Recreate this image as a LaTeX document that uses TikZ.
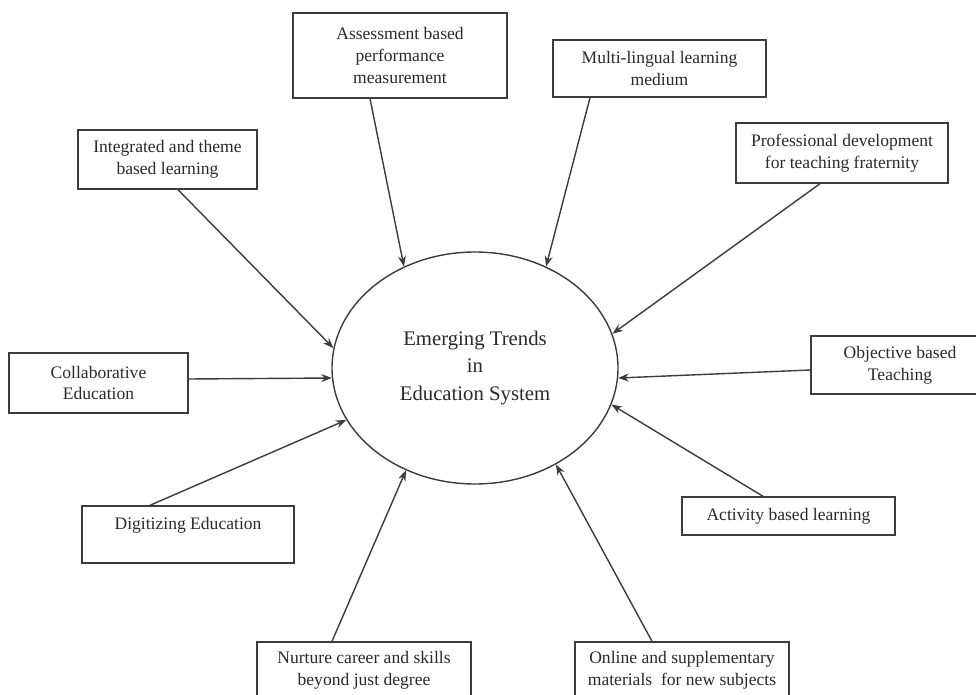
\documentclass[tikz,border=0pt]{standalone}
\usepackage{fontspec}
\setmainfont{Liberation Serif}
\usetikzlibrary{arrows.meta,shapes.geometric}
\newlength\pxu
\setlength\pxu{0.02cm}
\definecolor{linecol}{HTML}{3C3C3C}
\definecolor{textcol}{HTML}{2A2A2A}
\tikzset{
  trendbox/.style={draw=linecol, line width=0.8pt, rectangle, inner sep=0pt, align=center,
    text=textcol, font=\fontsize{10}{12.3}\selectfont},
  hub/.style={draw=linecol, line width=0.8pt, ellipse, inner sep=0pt, align=center,
    minimum width=286\pxu, minimum height=232\pxu, text=textcol,
    font=\fontsize{11.8}{15.6}\selectfont},
  conn/.style={draw=linecol, line width=0.8pt, -{Stealth[length=6pt,width=4.5pt]}}
}
\begin{document}
\begin{tikzpicture}[x=0.02cm, y=-0.02cm]
\useasboundingbox (0,0) rectangle (976,695);
\clip (0,0) rectangle (976,695);
\fill[white] (0,0) rectangle (976,695);

\node[hub] (c) at (475,368) {Emerging Trends\\in\\Education System};

\node[trendbox, minimum width=214\pxu, minimum height=85\pxu] (b1) at (400,55.5) {Assessment based\\performance\\measurement};
\node[trendbox, minimum width=213\pxu, minimum height=57\pxu] (b2) at (659.5,68.5) {Multi-lingual learning\\medium};
\node[trendbox, minimum width=212\pxu, minimum height=60\pxu] (b3) at (842,153) {Professional development\\for teaching fraternity};
\node[trendbox, minimum width=179\pxu, minimum height=59\pxu] (b4) at (167.5,159.5) {Integrated and theme\\based learning};
\node[trendbox, minimum width=179\pxu, minimum height=60\pxu] (b5) at (98.5,383) {Collaborative\\Education};
\node[trendbox, minimum width=178\pxu, minimum height=58\pxu] (b6) at (900,365) {Objective based\\Teaching};
\node[trendbox, minimum width=212\pxu, minimum height=57\pxu] (b7) at (188,534.5) {Digitizing Education\\\mbox{}};
\node[trendbox, minimum width=213\pxu, minimum height=38\pxu] (b8) at (788.5,516) {Activity based learning};
\node[trendbox, minimum width=214\pxu, minimum height=56\pxu] (b9) at (364,670) {Nurture career and skills\\beyond just degree};
\node[trendbox, minimum width=214\pxu, minimum height=56\pxu] (b10) at (682,670) {Online and supplementary\\materials\ \ for new subjects};

\draw[conn] ([xshift=-30\pxu]b1.south) -- (c.125.5);
\draw[conn] ([xshift=-69.5\pxu]b2.south) -- (c.55.4);
\draw[conn] ([xshift=-22\pxu]b3.south) -- (c.14.7);
\draw[conn] ([xshift=10.5\pxu]b4.south) -- (c.172.9);
\draw[conn] ([yshift=4\pxu]b5.east) -- (c.184.7);
\draw[conn] ([yshift=-5\pxu]b6.west) -- (c.-4);
\draw[conn] ([xshift=-38\pxu]b7.north) -- (c.202.1);
\draw[conn] ([xshift=-25.5\pxu]b8.north) -- (c.-15.9);
\draw[conn] ([xshift=-32\pxu]b9.north) -- (c.-124.5);
\draw[conn] ([xshift=-30\pxu]b10.north) -- (c.-50.6);
\end{tikzpicture}
\end{document}
